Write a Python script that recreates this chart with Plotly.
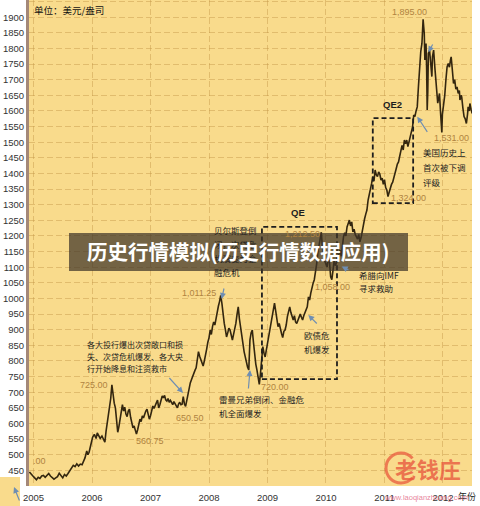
import plotly.graph_objects as go

# ---------------- data (decimal year, USD/oz) ----------------
dates = [
    2004.93, 2004.96, 2004.99, 2005.02, 2005.05, 2005.08, 2005.11, 2005.14, 2005.17, 2005.20,
    2005.23, 2005.26, 2005.29, 2005.32, 2005.35, 2005.38, 2005.41, 2005.44, 2005.47, 2005.50,
    2005.53, 2005.56, 2005.59, 2005.62, 2005.65, 2005.68, 2005.71, 2005.74, 2005.77, 2005.80,
    2005.83, 2005.86, 2005.88, 2005.91, 2005.93, 2005.95, 2005.98, 2006.01, 2006.04, 2006.07,
    2006.09, 2006.11, 2006.14, 2006.17, 2006.20, 2006.22, 2006.24, 2006.26, 2006.28, 2006.30,
    2006.32, 2006.34, 2006.36, 2006.38, 2006.40, 2006.42, 2006.44, 2006.46, 2006.48, 2006.50,
    2006.52, 2006.54, 2006.56, 2006.58, 2006.60, 2006.62, 2006.64, 2006.66, 2006.68, 2006.70,
    2006.72, 2006.74, 2006.76, 2006.78, 2006.80, 2006.82, 2006.84, 2006.86, 2006.88, 2006.90,
    2006.92, 2006.94, 2006.96, 2006.98, 2007.00, 2007.02, 2007.04, 2007.06, 2007.08, 2007.10,
    2007.12, 2007.14, 2007.16, 2007.18, 2007.20, 2007.22, 2007.24, 2007.26, 2007.28, 2007.30,
    2007.32, 2007.34, 2007.36, 2007.38, 2007.40, 2007.42, 2007.44, 2007.46, 2007.48, 2007.50,
    2007.52, 2007.54, 2007.56, 2007.58, 2007.60, 2007.62, 2007.64, 2007.66, 2007.68, 2007.70,
    2007.72, 2007.74, 2007.76, 2007.78, 2007.80, 2007.82, 2007.84, 2007.86, 2007.88, 2007.90,
    2007.92, 2007.94, 2007.96, 2007.98, 2008.00, 2008.02, 2008.04, 2008.06, 2008.08, 2008.10,
    2008.12, 2008.14, 2008.16, 2008.18, 2008.20, 2008.22, 2008.24, 2008.26, 2008.28, 2008.30,
    2008.32, 2008.34, 2008.36, 2008.38, 2008.40, 2008.42, 2008.44, 2008.46, 2008.48, 2008.50,
    2008.52, 2008.54, 2008.56, 2008.58, 2008.60, 2008.62, 2008.64, 2008.66, 2008.68, 2008.70,
    2008.72, 2008.74, 2008.76, 2008.78, 2008.80, 2008.82, 2008.84, 2008.86, 2008.88, 2008.90,
    2008.92, 2008.94, 2008.96, 2008.98, 2009.00, 2009.02, 2009.04, 2009.06, 2009.08, 2009.10,
    2009.12, 2009.14, 2009.16, 2009.18, 2009.20, 2009.22, 2009.24, 2009.26, 2009.28, 2009.30,
    2009.32, 2009.34, 2009.36, 2009.38, 2009.40, 2009.42, 2009.44, 2009.46, 2009.48, 2009.50,
    2009.52, 2009.54, 2009.56, 2009.58, 2009.60, 2009.62, 2009.64, 2009.66, 2009.68, 2009.70,
    2009.72, 2009.74, 2009.76, 2009.78, 2009.80, 2009.82, 2009.84, 2009.86, 2009.88, 2009.90,
    2009.92, 2009.94, 2009.96, 2009.98, 2010.00, 2010.02, 2010.04, 2010.06, 2010.08, 2010.10,
    2010.12, 2010.14, 2010.16, 2010.18, 2010.20, 2010.22, 2010.24, 2010.26, 2010.28, 2010.30,
    2010.32, 2010.34, 2010.36, 2010.38, 2010.40, 2010.42, 2010.44, 2010.46, 2010.48, 2010.50,
    2010.52, 2010.54, 2010.56, 2010.58, 2010.60, 2010.62, 2010.64, 2010.66, 2010.68, 2010.70,
    2010.72, 2010.74, 2010.76, 2010.78, 2010.80, 2010.82, 2010.84, 2010.86, 2010.88, 2010.90,
    2010.92, 2010.94, 2010.96, 2010.98, 2011.00, 2011.02, 2011.04, 2011.06, 2011.08, 2011.10,
    2011.12, 2011.14, 2011.16, 2011.18, 2011.20, 2011.22, 2011.24, 2011.26, 2011.28, 2011.30,
    2011.32, 2011.34, 2011.36, 2011.38, 2011.40, 2011.42, 2011.44, 2011.46, 2011.48, 2011.50,
    2011.52, 2011.54, 2011.56, 2011.58, 2011.60, 2011.62, 2011.64, 2011.65, 2011.66, 2011.67,
    2011.68, 2011.69, 2011.70, 2011.71, 2011.72, 2011.73, 2011.74, 2011.75, 2011.77, 2011.79,
    2011.81, 2011.82, 2011.84, 2011.86, 2011.88, 2011.89, 2011.91, 2011.93, 2011.94, 2011.96,
    2011.98, 2011.99, 2012.01, 2012.03, 2012.05, 2012.07, 2012.09, 2012.11, 2012.13, 2012.14,
    2012.16, 2012.18, 2012.20, 2012.22, 2012.24, 2012.26, 2012.28, 2012.29, 2012.31, 2012.32,
    2012.34, 2012.36, 2012.38, 2012.40, 2012.42, 2012.43, 2012.45, 2012.46, 2012.48, 2012.50,
]
price = [
    445, 440, 432, 426, 420, 428, 424, 432, 434, 428,
    436, 440, 432, 428, 422, 426, 430, 441, 432, 426,
    437, 432, 440, 448, 458, 466, 462, 471, 464, 470,
    468, 480, 490, 512, 500, 508, 535, 556, 565, 552,
    570, 562, 552, 560, 545, 540, 575, 600, 625, 645,
    680, 724, 688, 665, 650, 600, 572, 590, 614, 636,
    660, 640, 652, 630, 622, 640, 646, 620, 598, 586,
    592, 575, 566, 580, 600, 614, 606, 624, 618, 632,
    640, 646, 630, 614, 625, 640, 656, 648, 660, 666,
    675, 650, 660, 675, 688, 682, 690, 676, 672, 680,
    668, 674, 666, 660, 670, 662, 656, 650, 662, 668,
    660, 662, 686, 662, 655, 675, 698, 712, 730, 740,
    752, 760, 770, 778, 810, 830, 815, 806, 795, 784,
    800, 815, 838, 860, 874, 899, 885, 910, 925, 915,
    940, 953, 975, 990, 1010, 985, 940, 921, 900, 877,
    890, 905, 899, 880, 867, 885, 900, 921, 950, 973,
    935, 910, 880, 846, 830, 813, 795, 780, 771, 867,
    890, 899, 860, 813, 790, 771, 739, 725, 760, 800,
    846, 825, 813, 835, 856, 870, 890, 910, 935, 963,
    985, 960, 930, 910, 920, 900, 888, 875, 895, 899,
    915, 942, 960, 973, 955, 940, 931, 945, 925, 920,
    930, 942, 950, 940, 931, 945, 955, 965, 973, 1005,
    995, 1017, 1040, 1049, 1060, 1081, 1110, 1145, 1165, 1195,
    1212, 1160, 1133, 1120, 1110, 1101, 1135, 1115, 1069, 1060,
    1090, 1123, 1105, 1113, 1125, 1140, 1155, 1135, 1175, 1198,
    1210, 1200, 1229, 1238, 1251, 1232, 1245, 1213, 1222, 1205,
    1198, 1190, 1205, 1181, 1195, 1220, 1240, 1255, 1270, 1283,
    1315, 1330, 1345, 1368, 1390, 1375, 1411, 1395, 1390, 1405,
    1398, 1379, 1385, 1365, 1380, 1355, 1347, 1326, 1340, 1358,
    1365, 1372, 1390, 1400, 1415, 1430, 1437, 1455, 1475, 1490,
    1475, 1507, 1495, 1507, 1486, 1500, 1515, 1528, 1549, 1587,
    1582, 1600, 1613, 1677, 1741, 1790, 1816, 1860, 1893, 1870,
    1848, 1763, 1790, 1816, 1740, 1603, 1660, 1784, 1795, 1740,
    1710, 1773, 1795, 1741, 1700, 1677, 1625, 1645, 1656, 1590,
    1531, 1590, 1613, 1650, 1700, 1741, 1752, 1740, 1765, 1773,
    1731, 1688, 1700, 1670, 1677, 1656, 1665, 1635, 1650, 1645,
    1610, 1582, 1575, 1560, 1590, 1613, 1600, 1624, 1605, 1592,
]

year_ticks = [2005, 2006, 2007, 2008, 2009, 2010, 2011, 2012]
year_labels = ["2005", "2006", "2007", "2008", "2009", "2010", "2011", "2012"]
price_ticks = list(range(450, 2000, 50))

# QE periods (decimal year range, price range of the dashed boxes)
qe_box = [2008.905, 2010.188, 742, 1229]
qe2_box = [2010.80, 2011.49, 1305, 1577]

# ---------------- styling ----------------
PLOT_BG = "#F9DB8C"
GRID = "rgba(196,150,70,0.45)"
LINE = "#33260F"
NUM = "#B08340"
ARROW = "#6F8EB2"
CJK = "Noto Sans CJK SC"
LAT = "Liberation Sans"

L, R, T, B = 29, 8, 0, 20
W, H = 480, 506
PW, PH = W - L - R, H - T - B


def P(x, y):
    """pixel -> paper fraction"""
    return (x - L) / PW, (H - B - y) / PH


fig = go.Figure()
fig.add_trace(go.Scatter(x=dates, y=price, mode="lines",
                         line=dict(color=LINE, width=1.6), hoverinfo="skip"))

shapes = []
for bx in (qe_box, qe2_box):
    shapes.append(dict(type="rect", xref="x", yref="y", x0=bx[0], x1=bx[1], y0=bx[2], y1=bx[3],
                       line=dict(color="#1E1E1E", width=1.8, dash="5px,3px"), fillcolor="rgba(0,0,0,0)"))

# banner
bx0, by0 = P(69, 271)
bx1, by1 = P(408, 233)
shapes.append(dict(type="rect", xref="paper", yref="paper", x0=bx0, x1=bx1, y0=by0, y1=by1,
                   line=dict(width=0), fillcolor="rgba(62,52,40,0.72)", layer="above"))
# small inset at bottom-left
ix0, iy0 = P(0, 506)
ix1, iy1 = P(20, 477)
shapes.append(dict(type="rect", xref="paper", yref="paper", x0=ix0, x1=ix1, y0=iy0, y1=iy1,
                   line=dict(width=0), fillcolor=PLOT_BG, layer="above"))
# logo swoosh
cx, cy = P(401, 468)
shapes.append(dict(type="path", xref="paper", yref="paper", xsizemode="pixel", ysizemode="pixel",
                   xanchor=cx, yanchor=cy,
                   path="M 11.5 9.6 C 8.6 13 4.4 15 0 15 C -8.3 15 -15 8.3 -15 0 "
                        "C -15 -8.3 -8.3 -15 0 -15 C 4.4 -15 8.6 -13 11.5 -9.6",
                   line=dict(color="rgba(232,90,62,0.75)", width=3), layer="above"))

ann = []


def text(x, y, s, size=8, color="#1E1E1E", font=CJK, anchor="left", bold=False):
    px, py = P(x, y)
    ann.append(dict(xref="paper", yref="paper", x=px, y=py, text=f"<b>{s}</b>" if bold else s,
                    showarrow=False, xanchor=anchor, yanchor="middle",
                    font=dict(size=size, color=color, family=font)))


def arrow(hx, hy, tx, ty):
    px, py = P(hx, hy)
    ann.append(dict(xref="paper", yref="paper", x=px, y=py, text="", showarrow=True,
                    ax=tx - hx, ay=ty - hy, arrowhead=2, arrowsize=1, arrowwidth=1.2,
                    arrowcolor=ARROW))


text(32, 10, "单位：美元/盎司", size=9.5, color="#111")
text(409, 12, "1,895.00", size=9, color=NUM, font=LAT, anchor="center")
text(392, 105, "QE2", size=9.5, font=LAT, anchor="center", bold=True)
text(451, 138, "1,531.00", size=9, color=NUM, font=LAT, anchor="center")
text(421, 152, "美国历史上", size=8.5)
text(421, 167, "首次被下调", size=8.5)
text(421, 182, "评级", size=8.5)
text(408, 198, "1,324.00", size=9, color=NUM, font=LAT, anchor="center")
text(298, 212, "QE", size=9.5, font=LAT, anchor="center", bold=True)
text(212, 230, "贝尔斯登倒", size=8.5)
text(212, 244, "闭，次贷危", size=8.5)
text(212, 258, "机演变为金", size=8.5)
text(212, 272, "融危机", size=8.5)
text(302, 234, "1,212.50", size=9, color=NUM, font=LAT, anchor="center")
text(199, 293, "1,011.25", size=9, color=NUM, font=LAT, anchor="center")
text(332, 287, "1,058.00", size=9, color=NUM, font=LAT, anchor="center")
text(357, 275, "希腊向IMF", size=8.5)
text(357, 288, "寻求救助", size=8.5)
text(302, 335, "欧债危", size=8.5)
text(302, 349, "机爆发", size=8.5)
text(275, 387, "720.00", size=9, color=NUM, font=LAT, anchor="center")
text(217, 399, "雷曼兄弟倒闭、金融危", size=8.5)
text(217, 413, "机全面爆发", size=8.5)
text(85, 344, "各大投行爆出次贷敞口和损", size=8)
text(85, 356, "失、次贷危机爆发、各大央", size=8)
text(85, 368, "行开始降息和注资救市", size=8)
text(94, 385, "725.00", size=9, color=NUM, font=LAT, anchor="center")
text(190, 418, "650.50", size=9, color=NUM, font=LAT, anchor="center")
text(150, 441, "560.75", size=9, color=NUM, font=LAT, anchor="center")
text(31, 461, ".00", size=9, color=NUM, font=LAT)
text(467, 496, "年份", size=9, anchor="center")

arrow(221.7, 299, 224.3, 287)
arrow(183, 393, 168, 376.5)
arrow(250, 370, 248.3, 390)
arrow(308.3, 315, 318.3, 325)
arrow(341.7, 266.5, 350, 270.7)
arrow(417.3, 116.7, 428.3, 133.3)
arrow(428.3, 52.3, 433.5, 43)
arrow(14, 487, 20, 502)

# banner title
text(238, 251, "历史行情模拟(历史行情数据应用)", size=20.5, color="white", anchor="center", bold=True)
# watermark
text(428, 468, "老钱庄", size=22, color="rgba(232,88,62,0.78)", anchor="center", bold=True)
text(426, 497, "www.laoqianzhuang.com", size=7.5, color="rgba(226,100,128,0.8)", font=LAT, anchor="center")

fig.update_layout(
    width=W, height=H, margin=dict(l=L, r=R, t=T, b=B, autoexpand=False),
    paper_bgcolor="white", plot_bgcolor=PLOT_BG, showlegend=False,
    shapes=shapes, annotations=ann,
    xaxis=dict(range=[2004.923, 2012.496], tickvals=year_ticks, ticktext=year_labels,
               showgrid=True, gridcolor=GRID, gridwidth=1, griddash="6px,3px",
               zeroline=False, showline=False, ticks="", automargin=False,
               ticklabelstandoff=4,
               tickfont=dict(size=9.5, color="#333", family=LAT)),
    yaxis=dict(range=[400, 1955], tickvals=price_ticks,
               showgrid=True, gridcolor=GRID, gridwidth=1, griddash="6px,3px",
               zeroline=False, showline=True, linecolor="#A48878", linewidth=3, ticks="",
               automargin=False,
               tickfont=dict(size=9.5, color="#333", family=LAT)),
)

fig.write_html("out.html", config={"displayModeBar": False},
               post_script="document.body.style.margin='0';document.body.style.overflow='hidden';")
